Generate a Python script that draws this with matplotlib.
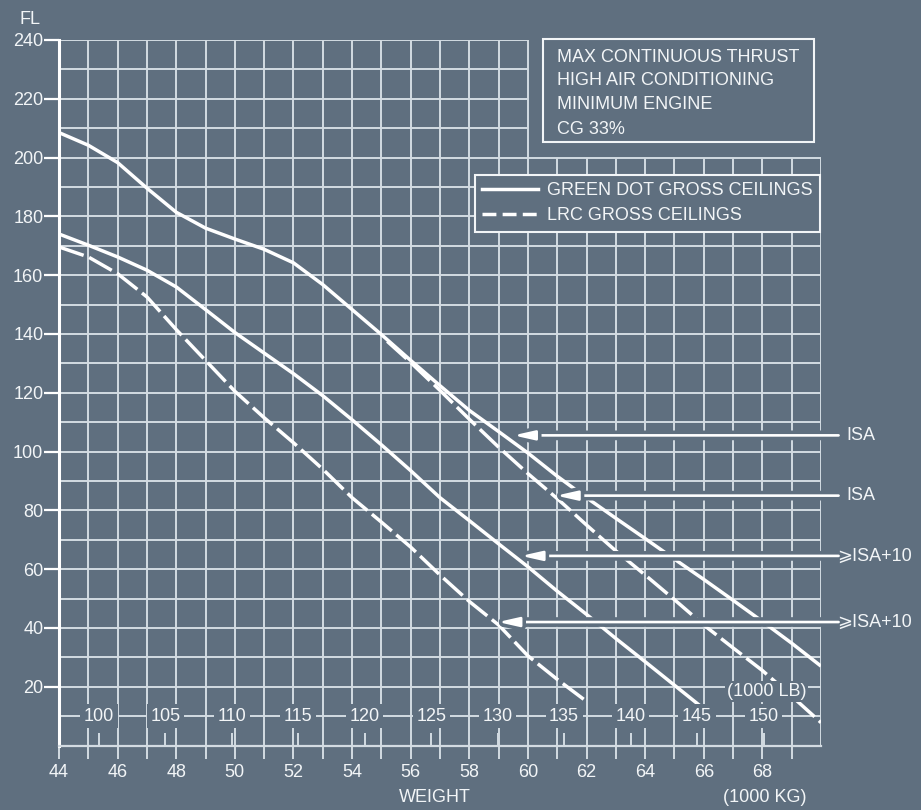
import matplotlib
matplotlib.use("Agg")
import matplotlib.pyplot as plt
import matplotlib.patheffects as pe
from matplotlib.lines import Line2D
from matplotlib.patches import Rectangle

plt.rcParams['font.family'] = ['Liberation Sans', 'DejaVu Sans']

BG = '#5f6f7f'
GRID = '#d3dbe2'
WHITE = '#ffffff'
TXT = '#f2f5f7'
FS = 13

# green dot gross ceilings (solid) - ISA and ISA+10
green_isa_x = [44, 45, 46, 47, 48, 49, 50, 51, 52, 53, 54, 55, 56, 57, 58, 59, 60,
               61, 62, 63, 64, 65, 66, 67, 68, 69, 70]
green_isa_fl = [208.5, 204.2, 198.3, 189.6, 181.4, 176, 172.3, 168.8, 164.2, 156.8,
                148.3, 139.8, 131, 122.4, 114, 106.8, 99.5, 91.6, 84.3, 77.3, 70.4,
                63.4, 56.5, 49.4, 42.2, 34.8, 27]
green_isa10_x = [44, 45, 46, 47, 48, 49, 50, 51, 52, 53, 54, 55, 56, 57, 58, 59, 60,
                 61, 62, 63, 64, 65, 66, 66.1]
green_isa10_fl = [174, 170.2, 166.2, 161.7, 156, 148.3, 140.5, 133.5, 126.5, 119,
                  110.8, 102.3, 93.5, 84.3, 76.5, 68.6, 60.8, 52.5, 44.6, 36.4, 28.5,
                  20.5, 12.5, 11.8]

# LRC gross ceilings (dashed)
lrc_isa_x = [55.2, 56, 57, 58, 59, 60, 61, 62, 63, 64, 65, 66, 67, 68, 69, 70]
lrc_isa_fl = [137.5, 130.3, 120.8, 111, 101.5, 92.5, 84, 75, 66.2, 58, 49.6, 41,
              33.2, 25.5, 16.8, 7.8]
lrc_isa10_x = [44, 45, 46, 47, 48, 49, 50, 51, 52, 53, 54, 55, 56, 57, 58, 59, 60,
               61, 62]
lrc_isa10_fl = [169.6, 166.2, 160.5, 152.6, 141.5, 131, 120.5, 111.5, 103, 94, 84.3,
                76, 67.5, 58, 49, 41, 30.5, 22.5, 15]

# arrows on the right
arrow_fl = [105.5, 85, 64.5, 42]
arrow_tip = [59.5, 60.96, 59.76, 58.97]
arrow_text = ['ISA', 'ISA', '\u2a7eISA+10', '\u2a7eISA+10']

kg_ticks = list(range(44, 70, 2))
kg_minor = list(range(45, 70, 2))
fl_ticks = list(range(20, 241, 20))
lb_labels = [100, 105, 110, 115, 120, 125, 130, 135, 140, 145, 150]

notes = ['MAX CONTINUOUS THRUST', 'HIGH AIR CONDITIONING', 'MINIMUM ENGINE', 'CG 33%']

fig = plt.figure(figsize=(9.21, 8.10), dpi=100)
fig.patch.set_facecolor(BG)
ax = fig.add_axes([59 / 921, 64.5 / 810, 762 / 921, 705.5 / 810])
ax.set_facecolor(BG)
ax.set_xlim(44, 70)
ax.set_ylim(0, 240)

# L-shaped grid (upper right left free for the note box)
for x in range(45, 71):
    top = 240 if x <= 60 else 200
    ax.vlines(x, 0, top, color=GRID, lw=1.4, zorder=1)
for y in range(10, 241, 10):
    right = 70 if y <= 200 else 60
    ax.hlines(y, 44, right, color=GRID, lw=1.4, zorder=1)

# curves
ax.plot(green_isa_x, green_isa_fl, color=WHITE, lw=2.5, zorder=2, solid_capstyle='butt')
ax.plot(green_isa10_x, green_isa10_fl, color=WHITE, lw=2.5, zorder=2, solid_capstyle='butt')
ax.plot(lrc_isa_x, lrc_isa_fl, color=WHITE, lw=2.5, zorder=2, linestyle=(0, (7.5, 1.7)))
ax.plot(lrc_isa10_x, lrc_isa10_fl, color=WHITE, lw=2.5, zorder=2, linestyle=(0, (7.5, 1.7)))

# arrows with a gap cut round them
for fl, tip, lab in zip(arrow_fl, arrow_tip, arrow_text):
    ann = ax.annotate('', xy=(tip, fl), xytext=(70.6, fl), annotation_clip=False,
                      arrowprops=dict(arrowstyle='-|>,head_length=1.25,head_width=0.28',
                                      mutation_scale=10, lw=1.9, color=WHITE,
                                      shrinkA=0, shrinkB=0), zorder=3)
    ann.arrow_patch.set_path_effects([pe.Stroke(linewidth=7, foreground=BG), pe.Normal()])
    xt = 70.87 if lab == 'ISA' else 70.56
    ax.text(xt, fl, lab, color=TXT, fontsize=FS, ha='left', va='center', clip_on=False,
            family=['Liberation Sans', 'DejaVu Sans'])

# pound scale on FL 10
lb_x = [v * 0.45359237 for v in lb_labels]
ax.vlines(lb_x, 0, 4.4, color=GRID, lw=1.4, zorder=1)
for x, v in zip(lb_x, lb_labels):
    ax.text(x, 10, str(v), color=TXT, fontsize=FS, ha='center', va='center', zorder=4,
            bbox=dict(boxstyle='square,pad=0.2', fc=BG, ec='none'))
ax.text(68.14, 18.3, '(1000 LB)', color=TXT, fontsize=FS, ha='center', va='center',
        zorder=4, bbox=dict(boxstyle='square,pad=0.1', fc=BG, ec='none'))

# axes styling
for s in ['top', 'right']:
    ax.spines[s].set_visible(False)
ax.spines['left'].set_color(WHITE)
ax.spines['left'].set_linewidth(2.2)
ax.spines['bottom'].set_color(GRID)
ax.spines['bottom'].set_linewidth(1.6)
ax.set_xticks(kg_ticks)
ax.set_xticks(kg_minor, minor=True)
ax.set_yticks(fl_ticks)
ax.tick_params(axis='x', which='both', direction='out', length=9.4, width=1.4,
               color=GRID, pad=4, labelsize=FS, labelcolor=TXT)
ax.tick_params(axis='y', which='major', direction='out', length=10.8, width=1.6,
               color=WHITE, pad=0.5, labelsize=FS, labelcolor=TXT)

fig.text(30 / 921, 1 - 20 / 810, 'FL', color=TXT, fontsize=FS, ha='center', va='center')
fig.text(435 / 921, 1 - 797 / 810, 'WEIGHT', color=TXT, fontsize=FS, ha='center', va='center')
fig.text(765 / 921, 1 - 797 / 810, '(1000 KG)', color=TXT, fontsize=FS, ha='center', va='center')

# note box
ax.add_patch(Rectangle((60.5, 205.3), 9.25, 34.9, fc=BG, ec=TXT, lw=1.5, zorder=5,
                       clip_on=False))
for fl, line in zip([234.2, 226.2, 218.0, 209.5], notes):
    ax.text(61.0, fl, line, color=TXT, fontsize=FS, ha='left', va='center', zorder=6)

# legend
handles = [Line2D([], [], color=WHITE, lw=2.5),
           Line2D([], [], color=WHITE, lw=2.5, linestyle=(0, (4, 1.8)))]
leg = ax.legend(handles, ['GREEN DOT GROSS CEILINGS', 'LRC GROSS CEILINGS'],
                loc='upper left', bbox_to_anchor=(475 / 921, 1 - 175 / 810),
                bbox_transform=fig.transFigure, borderaxespad=0, fontsize=FS,
                handlelength=3.1, handletextpad=0.5, borderpad=0.4, labelspacing=0.45,
                fancybox=False, framealpha=1, facecolor=BG, edgecolor=TXT,
                labelcolor=TXT)
leg.get_frame().set_linewidth(1.5)
leg.set_zorder(5)

fig.savefig('out.png', dpi=100, facecolor=BG)
